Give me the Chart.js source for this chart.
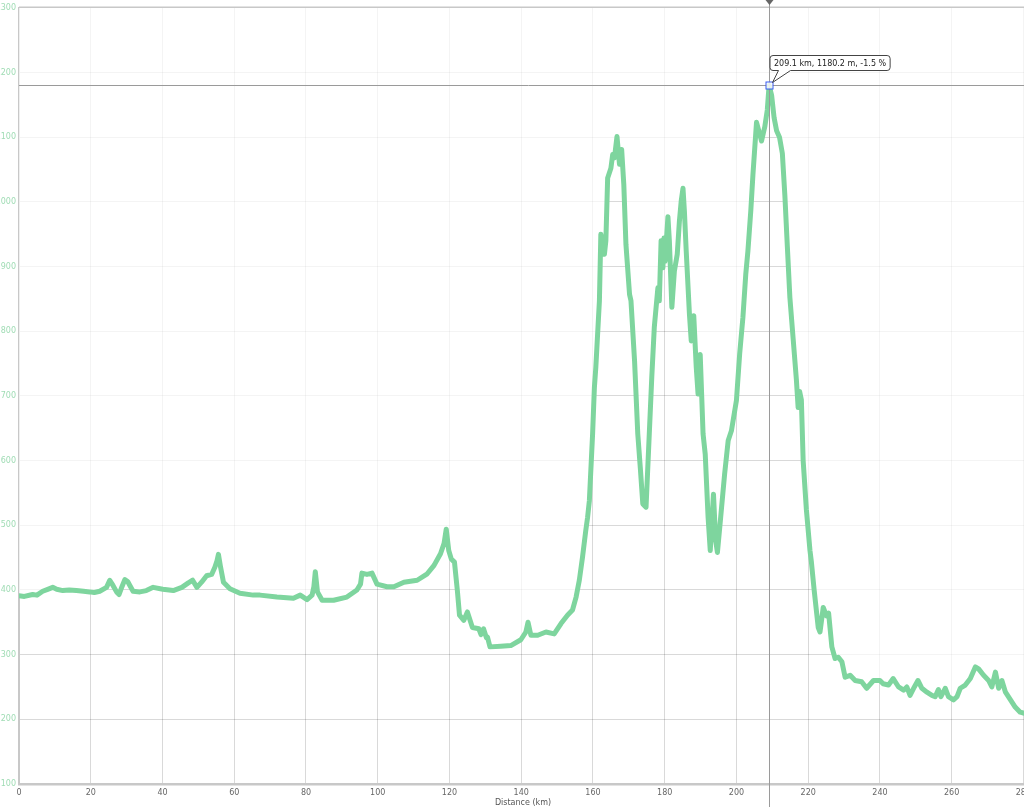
<!DOCTYPE html>
<html>
<head>
<meta charset="utf-8">
<title>Elevation profile</title>
<script src="https://cdn.jsdelivr.net/npm/chart.js@4.4.1/dist/chart.umd.min.js"></script>
<style>
  html, body { margin: 0; padding: 0; background: #fff; overflow: hidden; width: 1024px; height: 807px; }
  #wrap { position: absolute; left: -12px; top: 0; width: 1050px; height: 812px; }
</style>
</head>
<body>
<div id="wrap"><canvas id="profile" width="1050" height="812"></canvas></div>
<script>
// route profile
const distanceKm = [
  0, 1.5, 3.8, 5, 6.6, 8, 9.4, 10.5, 12.2, 14, 16, 18, 19.7, 21, 22.5, 24.4, 25.3, 26.2, 27.2, 27.9,
  28.7, 29.5, 30.3, 30.9, 31.8, 33.7, 35.5, 37.4, 40.1, 43, 45.4, 47.2, 48.4, 49.6, 50.9, 52.3, 53.7, 54.6, 55.2, 55.6,
  56.2, 57, 58.8, 61.6, 65.3, 67.2, 71.9, 76.5, 78.4, 80.3, 81.7, 82.2, 82.6, 83.2, 84.5, 87.7, 91.4, 94.2, 95.2, 95.6,
  97, 98.4, 99.8, 102.6, 104.5, 107.3, 111, 113.8, 115.7, 117.5, 118.5, 119.1, 119.8, 120.5, 121.4, 122.2, 122.8, 124, 125, 126.4,
  128.2, 128.8, 129.5, 130.3, 130.6, 131.3, 134.3, 137.1, 139.9, 141.3, 141.9, 142.7, 144.6, 146.9, 149.2, 151.1, 152.9, 154.3, 155.3, 156.2,
  157.1, 158, 158.5, 159, 159.9, 160.4, 160.8, 161.8, 162.2, 163.2, 163.6, 164.1, 165, 165.5, 166, 166.7, 167.4, 168, 168.6, 169.2,
  170.2, 170.6, 171.6, 172.5, 173.2, 173.9, 174.8, 175.7, 176.4, 177.1, 178.1, 178.5, 179, 179.5, 179.8, 180.1, 180.9, 181.3, 182, 182.7,
  183.5, 184.1, 184.6, 185.1, 185.5, 186, 186.9, 187.4, 188.1, 188.8, 189.3, 189.9, 190.7, 191.3, 192.1, 192.7, 193.6, 194.2, 194.7, 195.6,
  196.7, 197.7, 198.6, 200, 200.9, 201.8, 202.6, 203.2, 204, 204.6, 205.6, 207, 207.9, 208.6, 209.1, 209.8, 210.5, 211.2, 212, 212.8,
  213.5, 214.2, 214.9, 215.8, 216.7, 217.2, 217.6, 218.1, 218.6, 219.5, 220.5, 220.9, 221.7, 222.8, 223.3, 224.2, 225.1, 225.7, 226.6, 227.5,
  228.4, 229.4, 230.3, 231.7, 233.1, 234.9, 236.3, 238.2, 240, 240.9, 242.4, 243.7, 245.2, 246.6, 247.5, 248.4, 249.6, 250.6, 251.7, 253.1,
  254.5, 255.4, 256.3, 257, 258.2, 259.1, 260.5, 261.5, 262.4, 263.8, 265.2, 266.6, 267.5, 268.9, 270.3, 271.2, 272.2, 273.1, 274, 275,
  276.4, 277.7, 279.1, 280.5
];
const elevationM = [
  391, 390, 393, 392, 398, 401, 404, 401, 399, 400, 399, 398, 397, 396, 398, 404, 415, 407, 397, 393,
  405, 416, 413, 407, 398, 397, 399, 404, 401, 399, 404, 411, 415, 404, 412, 422, 424, 435, 445, 455,
  435, 412, 402, 395, 392, 392, 389, 387, 392, 385, 392, 405, 428, 397, 384, 384, 389, 400, 409, 426,
  424, 426, 409, 405, 405, 412, 415, 425, 438, 456, 472, 494, 461, 448, 443, 399, 361, 353, 366, 342,
  340, 331, 340, 326, 327, 312, 313, 314, 323, 335, 350, 330, 330, 335, 332, 348, 361, 369, 389, 415,
  451, 492, 512, 538, 641, 713, 744, 847, 950, 919, 940, 1037, 1052, 1073, 1068, 1101, 1058, 1081, 1027, 934,
  857, 847, 754, 641, 589, 533, 528, 641, 729, 806, 867, 847, 940, 898, 944, 908, 977, 940, 837, 893,
  919, 970, 1001, 1021, 985, 924, 826, 785, 824, 744, 703, 764, 641, 610, 512, 461, 548, 477, 458, 512,
  579, 631, 646, 693, 765, 821, 888, 924, 986, 1042, 1123, 1094, 1116, 1142, 1180, 1165, 1130, 1110, 1100, 1075,
  1010, 930, 852, 789, 726, 682, 707, 694, 600, 524, 461, 443, 398, 342, 335, 373, 360, 364, 312, 294,
  296, 289, 265, 268, 260, 258, 248, 260, 260, 255, 253, 263, 250, 245, 250, 237, 250, 260, 248, 242,
  237, 235, 246, 235, 248, 235, 230, 235, 248, 253, 263, 281, 278, 268, 260, 250, 273, 248, 260, 242,
  230, 219, 211, 209
];

// hovered point shown in the picture
const cursorKm = 209.1;
const cursorElev = 1180.2;
const cursorGrade = -1.5;

const lineGreen = 'rgb(126, 213, 158)';
const gridGray = 'rgba(0, 0, 0, 0.15)';
const tickFont = { family: '"DejaVu Sans", Verdana, sans-serif', size: 8 };

// crosshair, marker, readout and top frame line
const cursorPlugin = {
  id: 'cursor',
  afterDraw(chart) {
    const { ctx, chartArea: a, scales: { x, y } } = chart;
    const px = Math.round(x.getPixelForValue(cursorKm)) + 0.5;
    const py = Math.round(y.getPixelForValue(cursorElev)) + 0.5;
    ctx.save();

    ctx.strokeStyle = '#c8c8c8';
    ctx.lineWidth = 1.5;
    ctx.beginPath();
    ctx.moveTo(a.left, a.top - 0.5);
    ctx.lineTo(a.right, a.top - 0.5);
    ctx.stroke();

    ctx.strokeStyle = '#9a9a9a';
    ctx.lineWidth = 1;
    ctx.beginPath();
    ctx.moveTo(px, 0);
    ctx.lineTo(px, chart.height);
    ctx.moveTo(a.left, py);
    ctx.lineTo(chart.width, py);
    ctx.stroke();

    ctx.fillStyle = '#666';
    ctx.beginPath();
    ctx.moveTo(px - 4, 0);
    ctx.lineTo(px + 4, 0);
    ctx.lineTo(px, 5);
    ctx.closePath();
    ctx.fill();

    ctx.fillStyle = 'rgba(255,255,255,0.8)';
    ctx.strokeStyle = '#3a5cf0';
    ctx.fillRect(px - 3.5, py - 3.5, 7, 7);
    ctx.strokeRect(px - 3.5, py - 3.5, 7, 7);

    const label = cursorKm + ' km, ' + cursorElev + ' m, ' + cursorGrade + ' %';
    ctx.font = '8px "DejaVu Sans", Verdana, sans-serif';
    const w = ctx.measureText(label).width + 8;
    const L = px + 0.5, T = py - 30, R = L + w, B = py - 15, r = 3;
    ctx.beginPath();
    ctx.moveTo(L + r, T);
    ctx.lineTo(R - r, T); ctx.arcTo(R, T, R, T + r, r);
    ctx.lineTo(R, B - r); ctx.arcTo(R, B, R - r, B, r);
    ctx.lineTo(px + 21, B);
    ctx.lineTo(px + 3, py - 3);
    ctx.lineTo(px + 9, B);
    ctx.lineTo(L + r, B); ctx.arcTo(L, B, L, B - r, r);
    ctx.lineTo(L, T + r); ctx.arcTo(L, T, L + r, T, r);
    ctx.closePath();
    ctx.fillStyle = '#fff';
    ctx.fill();
    ctx.strokeStyle = '#444';
    ctx.stroke();

    ctx.fillStyle = '#222';
    ctx.textBaseline = 'middle';
    ctx.fillText(label, L + 4, (T + B) / 2 + 0.5);
    ctx.restore();
  }
};

const points = distanceKm.map((d, i) => ({ x: d, y: elevationM[i] }));

new Chart(document.getElementById('profile'), {
  type: 'line',
  data: {
    datasets: [{
      data: points,
      borderColor: lineGreen,
      borderWidth: 5,
      borderJoinStyle: 'round',
      borderCapStyle: 'round',
      pointRadius: 0,
      tension: 0,
      // washes the grid out above the profile
      fill: 'end',
      backgroundColor: 'rgba(255,255,255,0.7)'
    }]
  },
  options: {
    responsive: false,
    animation: false,
    layout: { padding: { top: 6, right: 11, left: 0, bottom: 0 } },
    plugins: { legend: { display: false }, tooltip: { enabled: false } },
    scales: {
      x: {
        type: 'linear',
        min: 0,
        max: 281,
        afterFit: s => { s.height = 28; },
        grid: { color: gridGray, drawTicks: false },
        border: { color: '#c8c8c8', width: 2.5 },
        ticks: { stepSize: 20, includeBounds: false, padding: 4, color: '#666', font: tickFont, maxRotation: 0 },
        title: { display: true, text: 'Distance (km)', color: '#555', font: tickFont, padding: { top: 2, bottom: 4 } }
      },
      y: {
        min: 100,
        max: 1300,
        afterFit: s => { s.width = 31; },
        grid: { color: gridGray, drawTicks: false },
        border: { color: '#c8c8c8', width: 2 },
        ticks: { stepSize: 100, padding: 3, color: '#9fdcb4', font: tickFont, callback: v => String(v) }
      }
    }
  },
  plugins: [cursorPlugin]
});
</script>
</body>
</html>
